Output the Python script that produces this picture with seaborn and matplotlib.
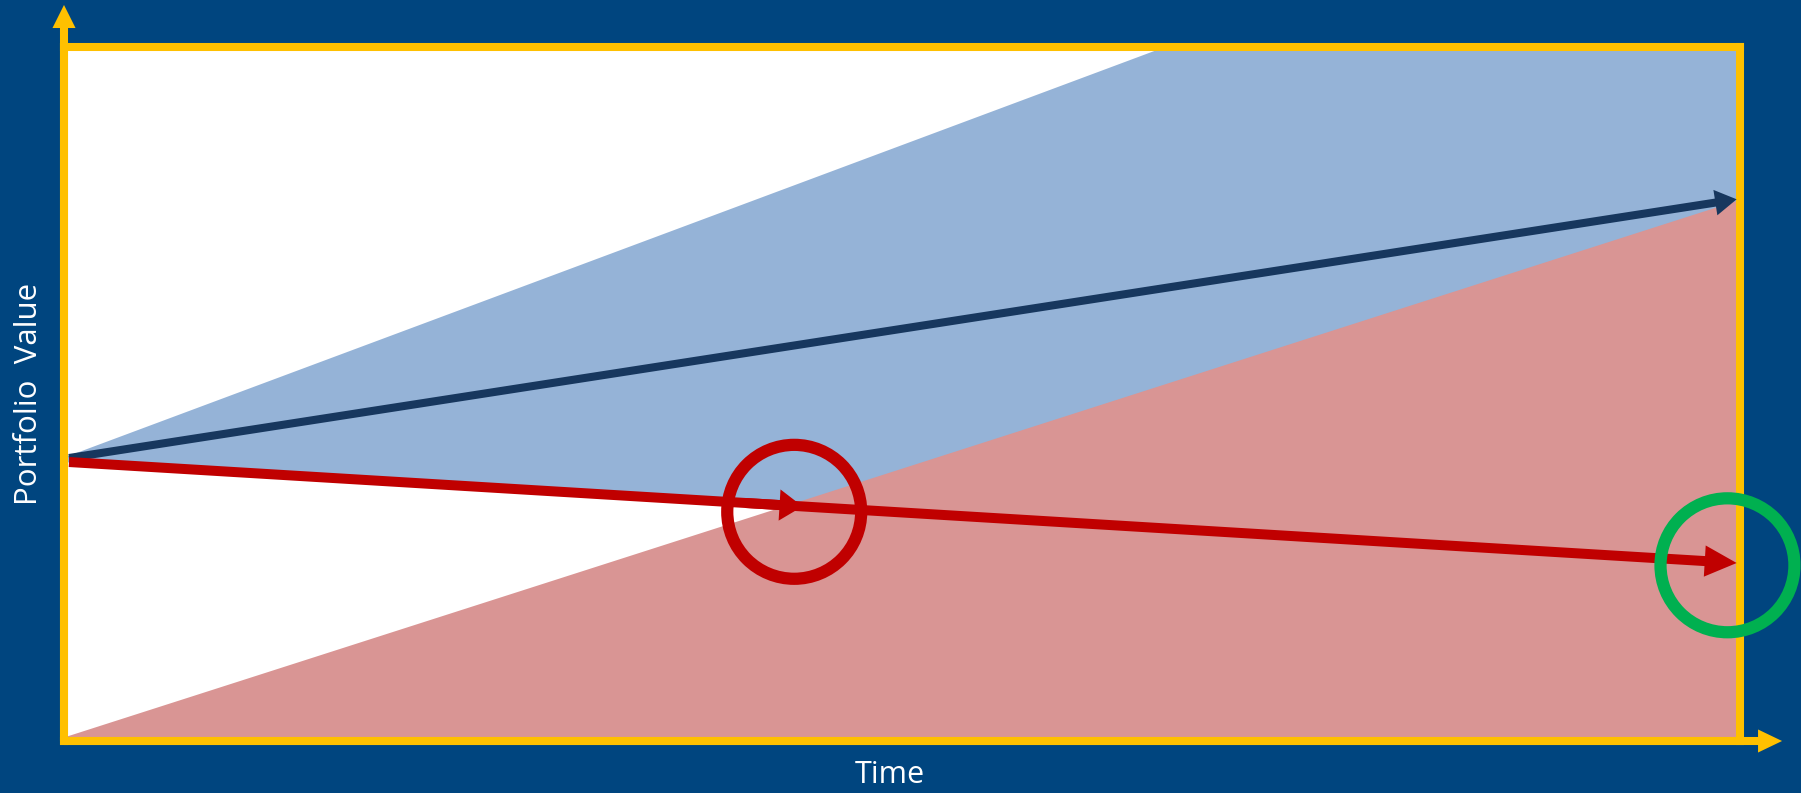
import matplotlib
matplotlib.use("Agg")
import matplotlib.pyplot as plt
import seaborn as sns
import pandas as pd

# ---- data (schematic, in axis units: time 0..1, value 0..1) ----
time = [-0.003, 1.0]
upper_range = [0.409, 1.309]      # upper edge of blue cone
lower_fill = [0.006, 0.780]       # upper edge of red region
expected_time = [0.0, 0.998]
expected_value = [0.4075, 0.780]  # navy arrow
actual_time = [0.0, 0.998]
actual_value = [0.4017, 0.2563]   # red arrow
mid_arrow_time = [0.405, 0.439]
circle_time = [0.434, 0.9925]
circle_value = [0.330, 0.253]
circle_kind = ["red", "green"]
x_label = "Time"
y_label = "Portfolio  Value"

BG = "#00457F"
YELLOW = "#FFC000"
BLUE_FILL = "#95B3D7"
RED_FILL = "#D99594"
NAVY = "#17375E"
RED = "#C00000"
GREEN = "#00B050"

sns.set_theme(style="white")
plt.rcParams["font.family"] = ["Open Sans", "DejaVu Sans"]

W, H = 1801, 793
fig = plt.figure(figsize=(W / 100, H / 100), dpi=100, facecolor=BG)
left_px, right_px, top_px, bot_px = 64, 1740, 46.5, 741
ax = fig.add_axes([left_px / W, (H - bot_px) / H, (right_px - left_px) / W, (bot_px - top_px) / H])
ax.set_facecolor("white")
ax.set_xlim(-0.003, 1.0)
ax.set_ylim(0, 1)
ax.set_xticks([]); ax.set_yticks([])
for s in ax.spines.values():
    s.set_color(YELLOW)
    s.set_linewidth(5.8)
    s.set_zorder(3)

# fills
slope_a = (actual_value[1] - actual_value[0]) / (actual_time[1] - actual_time[0])
blue_lower = [actual_value[0] + slope_a * t for t in time]
ax.fill_between(time, blue_lower, upper_range, color=BLUE_FILL, lw=0, zorder=1)
ax.fill_between(time, [0, 0], lower_fill, color=RED_FILL, lw=0, zorder=1.5)

def arrow(xy0, xy1, color, tail, hl, hw, z=4, coords="data"):
    ax.annotate("", xy=xy1, xytext=xy0, xycoords=coords, textcoords=coords,
                arrowprops=dict(arrowstyle=f"simple,head_length={hl},head_width={hw},tail_width={tail}",
                                mutation_scale=1, color=color, lw=0, shrinkA=0, shrinkB=0),
                zorder=z, annotation_clip=False)

# navy expected arrow
arrow((expected_time[0], expected_value[0]), (expected_time[1], expected_value[1]), NAVY, 5.8, 15.5, 18.5)
# red actual arrow
arrow((actual_time[0], actual_value[0]), (actual_time[1], actual_value[1]), RED, 7.2, 23, 22.5)
# mid red arrowhead
mv = [actual_value[0] + slope_a * t for t in mid_arrow_time]
arrow((mid_arrow_time[0], mv[0]), (mid_arrow_time[1], mv[1]), RED, 7.2, 16.6, 22.5)

# circles
df = pd.DataFrame({"t": circle_time, "v": circle_value, "k": circle_kind})
sns.scatterplot(data=df, x="t", y="v", hue="k", palette={"red": RED, "green": GREEN},
                marker="o", s=9300, linewidth=8.8, legend=False,
                ax=ax, zorder=6, clip_on=False)
sc = ax.collections[-1]
sc.set_facecolor("none")
sc.set_edgecolor([RED, GREEN])

# yellow axis arrows
arrow((0, 0), (0, 1.0598), YELLOW, 5.8, 16.6, 16.6, z=5, coords="axes fraction")
arrow((0, 0), (1.0251, 0), YELLOW, 5.8, 17.3, 16.6, z=5, coords="axes fraction")

fig.text(889.5 / W, (H - 783) / H, x_label, color="white", fontsize=22, ha="center", va="baseline")
fig.text(29 / W, (H - 394) / H, y_label, color="white", fontsize=22.5, ha="center", va="center",
         rotation=90)

fig.savefig("out.png", dpi=100, facecolor=BG)
